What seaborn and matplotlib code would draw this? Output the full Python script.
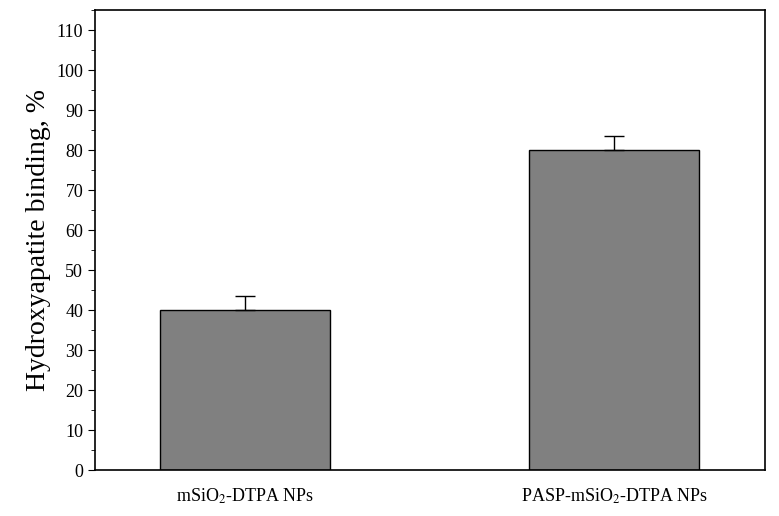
import numpy as np
import pandas as pd
import matplotlib
matplotlib.use('Agg')
import matplotlib.pyplot as plt
import seaborn as sns
from matplotlib.ticker import MultipleLocator

samples = ['mSiO$_2$-DTPA NPs', 'PASP-mSiO$_2$-DTPA NPs']
binding = [40, 80]
errors = [3.5, 3.5]

plt.rcParams['font.family'] = ['Liberation Serif', 'DejaVu Serif']
plt.rcParams['mathtext.fontset'] = 'stix'

df = pd.DataFrame({'sample': samples, 'binding': binding})

fig = plt.figure(figsize=(7.79, 5.16), dpi=100)
ax = fig.add_axes([0.122, 0.089, 0.86, 0.891])
sns.barplot(data=df, x='sample', y='binding', color='#808080', saturation=1,
            edgecolor='black', linewidth=1, width=0.46, ax=ax)
ax.errorbar(range(len(samples)), binding, yerr=[np.zeros(len(errors)), errors],
            fmt='none', ecolor='black', elinewidth=1, capsize=7, capthick=1)

ax.set_xlim(-0.407, 1.408)
ax.set_ylim(0, 115)
ax.yaxis.set_major_locator(MultipleLocator(10))
ax.yaxis.set_minor_locator(MultipleLocator(5))
ax.tick_params(axis='y', which='major', length=5, labelsize=13)
ax.tick_params(axis='y', which='minor', length=3)
ax.tick_params(axis='x', length=0, labelsize=13, pad=12)
ax.set_xlabel('')
ax.set_ylabel('Hydroxyapatite binding, %', fontsize=20)
for s in ax.spines.values():
    s.set_linewidth(1.2)

fig.savefig('out.png', dpi=100)
